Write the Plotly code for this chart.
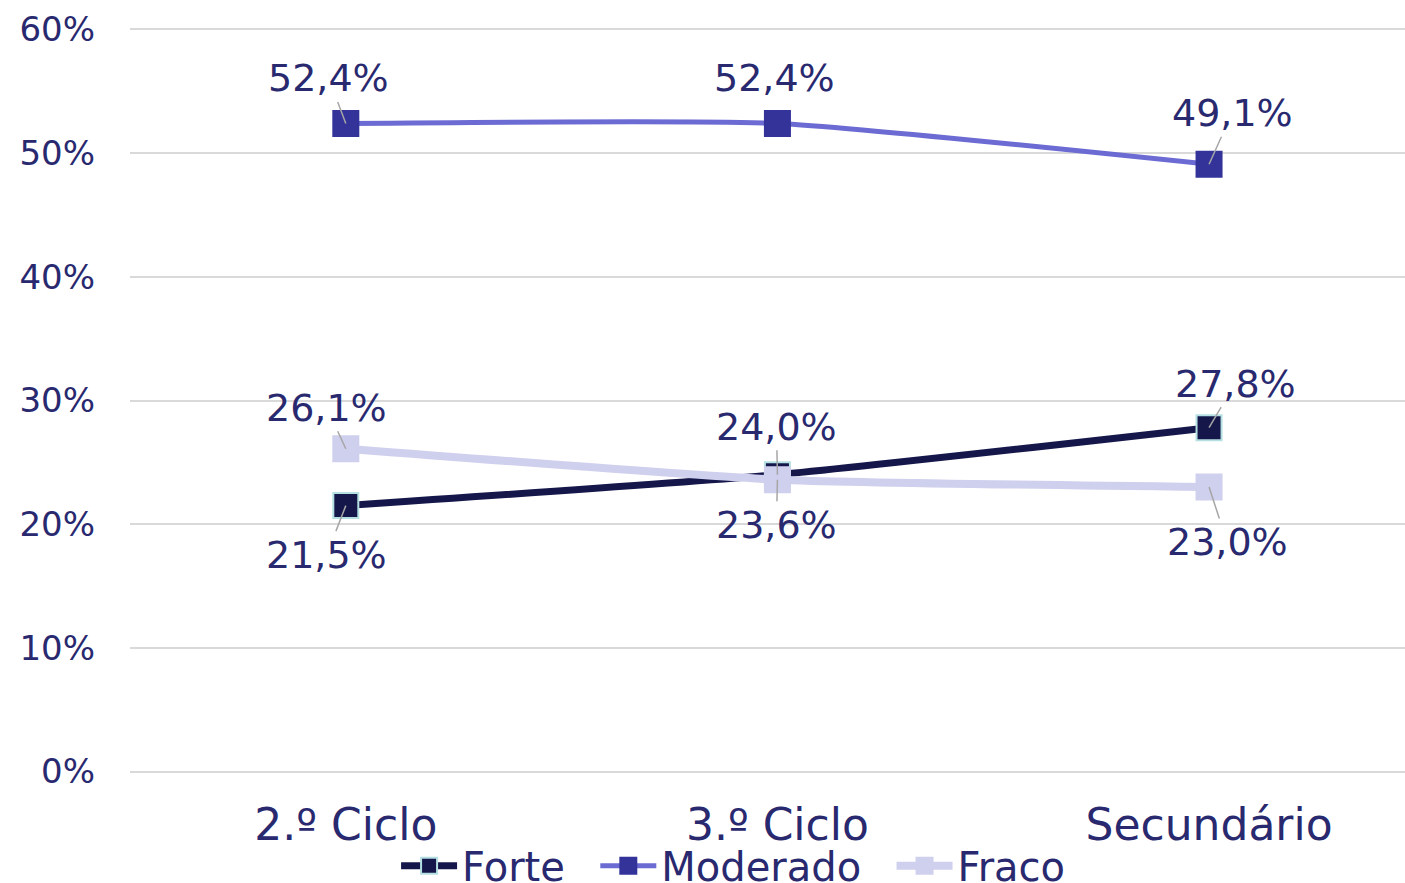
import plotly.graph_objects as go

categories = ["2.º Ciclo", "3.º Ciclo", "Secundário"]
forte = [0.215, 0.240, 0.278]
moderado = [0.524, 0.524, 0.491]
fraco = [0.261, 0.236, 0.230]
y_ticks = [0, 0.1, 0.2, 0.3, 0.4, 0.5, 0.6]

TEXT = "#29296F"
FONT = "DejaVu Sans"
PAD = "\u00a0\u00a0"

series = [
    dict(name="Forte", legend="Forte" + PAD, values=forte, line="#15174A", marker="#15174A",
         outline="#B5E0E2", lw=7),
    dict(name="Moderado", legend="Moderado" + PAD, values=moderado, line="#6B6BD3",
         marker="#33339A", outline="#33339A", lw=5),
    dict(name="Fraco", legend="Fraco", values=fraco, line="#CFCFEE", marker="#CFCFEE",
         outline="#CFCFEE", lw=8),
]

# label offsets (pixels) of each data label relative to its point, and leader-line flags
offsets = {
    "Forte": [(-19, 49), (-1, -48), (26, -44)],
    "Moderado": [(-17, -45), (-3, -45), (23, -51)],
    "Fraco": [(-19, -41), (-1, 45), (18, 55)],
}
leaders = {
    "Forte": [True, True, True],
    "Moderado": [True, False, True],
    "Fraco": [True, True, True],
}

fig = go.Figure()
for s in series:
    fig.add_trace(go.Scatter(
        x=categories, y=s["values"], name=s["legend"], mode="lines+markers",
        line=dict(color=s["line"], width=s["lw"], shape="spline", smoothing=0.5),
        marker=dict(symbol="square", size=25, color=s["marker"],
                    line=dict(color=s["outline"], width=2)),
    ))

annotations = []
for s in series:
    for i, (c, v) in enumerate(zip(categories, s["values"])):
        dx, dy = offsets[s["name"]][i]
        label = f"{v*100:.1f}".replace(".", ",") + "%"
        font = dict(family=FONT, size=38, color=TEXT)
        if leaders[s["name"]][i]:
            annotations.append(dict(
                x=c, y=v, xref="x", yref="y", ax=dx, ay=dy, text=label,
                showarrow=True, arrowhead=0, arrowwidth=1.5, arrowcolor="#A6A6A6",
                standoff=0, font=font,
            ))
        else:
            annotations.append(dict(
                x=c, y=v, xref="x", yref="y", xshift=dx, yshift=-dy, text=label,
                showarrow=False, font=font,
            ))

fig.update_layout(
    width=1405, height=883,
    margin=dict(l=130, r=0, t=28, b=110, autoexpand=False),
    paper_bgcolor="white", plot_bgcolor="white",
    font=dict(family=FONT, color=TEXT),
    showlegend=True,
    legend=dict(orientation="h", x=0.473, xanchor="center", y=-0.081, yanchor="top",
                font=dict(family=FONT, size=40, color=TEXT),
                itemwidth=56, tracegroupgap=0, bgcolor="rgba(0,0,0,0)"),
    annotations=annotations,
    xaxis=dict(type="category", range=[-0.5, 2.454], showgrid=False, zeroline=False,
               showline=False, ticks="", tickfont=dict(family=FONT, size=44, color=TEXT),
               ticklabelstandoff=22, automargin=False),
    yaxis=dict(range=[-0.0012, 0.6012], tickvals=y_ticks, tickformat=".0%", showgrid=True,
               gridcolor="#D9D9D9", gridwidth=1.5, zeroline=False, showline=False,
               tickfont=dict(family=FONT, size=34, color=TEXT), ticklabelstandoff=34,
               automargin=False),
)

fig.write_html(
    "out.html",
    config={"displayModeBar": False},
    post_script="document.body.style.margin='0';document.body.style.overflow='hidden';",
)
